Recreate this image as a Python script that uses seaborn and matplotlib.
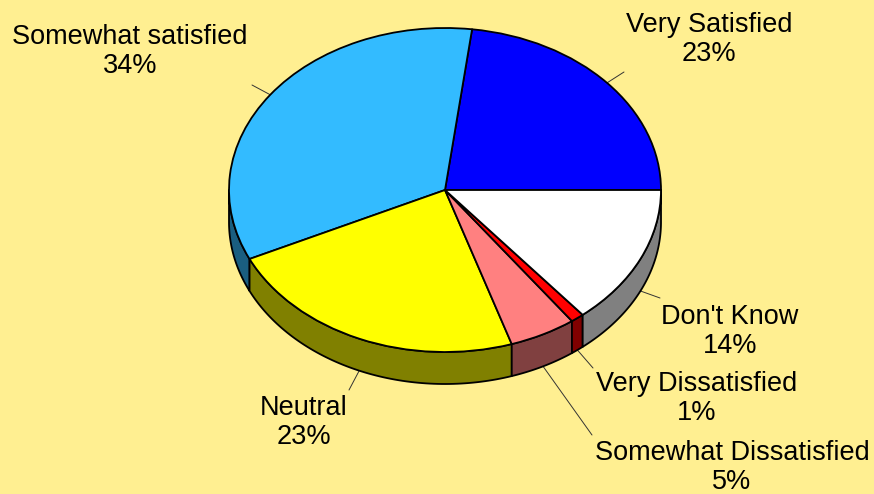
import numpy as np
import matplotlib
matplotlib.use("Agg")
import matplotlib.pyplot as plt
import seaborn as sns
from matplotlib.patches import Polygon

# Survey results
labels = ["Very Satisfied", "Somewhat satisfied", "Neutral",
          "Somewhat Dissatisfied", "Very Dissatisfied", "Don't Know"]
shares = [23, 34, 23, 5, 1, 14]

top_colors = ["#0000FF", "#33BBFF", "#FFFF00", "#FF8080", "#FF0000", "#FFFFFF"]
side_colors = ["#000080", "#1A5E80", "#808000", "#804040", "#800000", "#808080"]

# Label block centres and leader-line end points, in figure pixels (from top-left)
label_xy = [(709, 39), (130, 51), (304, 422), (732, 467), (697, 398), (730, 331)]
leader_end = [(624, 72), (252, 85), (349, 390), (592, 435), (593, 368), (660, 298)]

BG = "#FFEF91"
W, H = 874, 494
CX, CY = 445, 190          # pie centre in pixels
RX, RY = 216, 162          # pixels per data unit (x, y)
DEPTH = 32 / RY            # thickness of the pie rim in data units

sns.set_theme(style="white")
plt.rcParams["font.family"] = ["Liberation Sans", "DejaVu Sans"]

fig = plt.figure(figsize=(W / 100, H / 100), dpi=100, facecolor=BG)
ax = fig.add_axes([0, 0, 1, 1])
ax.set_facecolor(BG)


def px_to_data(px, py):
    return (px - CX) / RX, (CY - py) / RY


# slice angle ranges (counter-clockwise from 3 o'clock)
fracs = np.array(shares, dtype=float) / np.sum(shares)
edges = np.concatenate([[0.0], np.cumsum(fracs) * 360.0])

# rim: only the front half (180..360 deg) is visible
for i in range(len(shares)):
    a0, a1 = max(edges[i], 180.0), min(edges[i + 1], 360.0)
    if a1 <= a0:
        continue
    t = np.radians(np.linspace(a0, a1, 80))
    top = np.column_stack([np.cos(t), np.sin(t)])
    bot = np.column_stack([np.cos(t), np.sin(t) - DEPTH])[::-1]
    ax.add_patch(Polygon(np.vstack([top, bot]), closed=True,
                         facecolor=side_colors[i], edgecolor="black",
                         linewidth=1.3, joinstyle="round", zorder=2))

# top face
wedges, _ = ax.pie(shares, colors=top_colors, startangle=0, counterclock=True,
                   radius=1.0, center=(0, 0),
                   wedgeprops=dict(edgecolor="black", linewidth=1.3,
                                   joinstyle="round"))
for w in wedges:
    w.set_zorder(3)

# labels with leader lines
for i, lab in enumerate(labels):
    mid = np.radians((edges[i] + edges[i + 1]) / 2)
    sx, sy = np.cos(mid), np.sin(mid)
    if sy < 0:
        sy -= DEPTH
    ex, ey = px_to_data(*leader_end[i])
    ax.plot([sx, ex], [sy, ey], color="#333333", linewidth=0.7, zorder=1)
    tx, ty = px_to_data(*label_xy[i])
    ax.text(tx, ty, f"{lab}\n{shares[i]}%", ha="center", va="center",
            fontsize=19.5, color="black", linespacing=1.15, zorder=4)

ax.set_aspect("auto")
ax.set_xlim(-CX / RX, (W - CX) / RX)
ax.set_ylim(-(H - CY) / RY, CY / RY)
ax.axis("off")

fig.savefig("out.png", dpi=100, facecolor=BG)
